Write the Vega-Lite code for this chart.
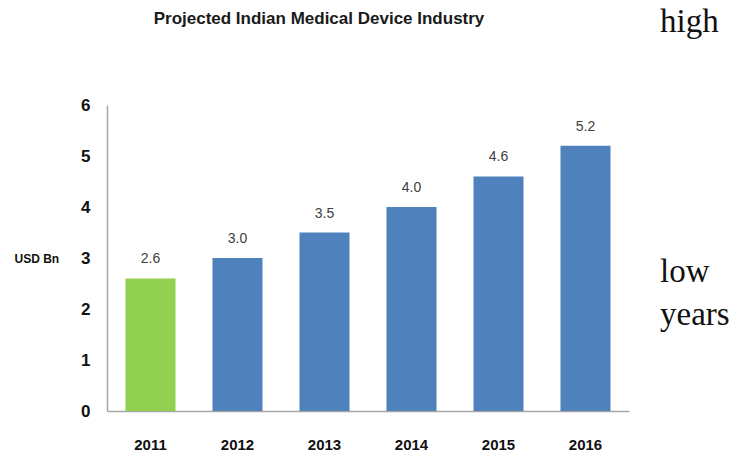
{
  "$schema": "https://vega.github.io/schema/vega-lite/v6.json",
  "width": 522,
  "height": 306,
  "autosize": {"type": "none"},
  "padding": {"left": 107, "top": 105, "right": 118, "bottom": 47},
  "background": "white",
  "title": {
    "text": "Projected Indian Medical Device Industry",
    "font": "Liberation Sans",
    "fontSize": 17,
    "fontWeight": "bold",
    "color": "#1a1a1a",
    "anchor": "middle",
    "baseline": "bottom",
    "dx": -49,
    "offset": 0,
    "dy": 39
  },
  "config": {"view": {"stroke": null}},
  "layer": [
    {
      "data": {
        "values": [
          {"year": "2011", "value": 2.6},
          {"year": "2012", "value": 3.0},
          {"year": "2013", "value": 3.5},
          {"year": "2014", "value": 4.0},
          {"year": "2015", "value": 4.6},
          {"year": "2016", "value": 5.2}
        ]
      },
      "encoding": {
        "x": {
          "field": "year",
          "type": "nominal",
          "scale": {"paddingInner": 0.425, "paddingOuter": 0.2125},
          "axis": {
            "title": null,
            "labelAngle": 0,
            "ticks": false,
            "labelPadding": 26,
            "labelFont": "Liberation Sans",
            "labelFontSize": 15,
            "labelFontWeight": "bold",
            "labelColor": "#111111",
            "domainColor": "#A6A6A6",
            "domainWidth": 1.5
          }
        },
        "y": {
          "field": "value",
          "type": "quantitative",
          "scale": {"domain": [0, 6], "nice": false},
          "axis": {
            "values": [0, 1, 2, 3, 4, 5, 6],
            "grid": false,
            "ticks": false,
            "labelPadding": 17,
            "labelFont": "Liberation Sans",
            "labelFontSize": 17,
            "labelFontWeight": "bold",
            "labelColor": "#111111",
            "domainColor": "#A6A6A6",
            "domainWidth": 1.5,
            "title": "USD Bn",
            "titleAngle": 0,
            "titleAlign": "left",
            "titleBaseline": "middle",
            "titleX": -93,
            "titleY": 153,
            "titleFont": "Liberation Sans",
            "titleFontSize": 12,
            "titleFontWeight": "bold",
            "titleColor": "#111111"
          }
        }
      },
      "layer": [
        {
          "mark": {"type": "bar"},
          "encoding": {
            "color": {
              "condition": {"test": "datum.year === '2011'", "value": "#92D050"},
              "value": "#4F81BD"
            }
          }
        },
        {
          "mark": {
            "type": "text",
            "dy": -19,
            "font": "Liberation Sans",
            "fontSize": 14,
            "color": "#404040"
          },
          "encoding": {
            "text": {"field": "value", "type": "quantitative", "format": ".1f"}
          }
        }
      ]
    },
    {
      "data": {"values": [{"word": "high"}]},
      "mark": {"type": "text", "align": "left", "baseline": "middle", "font": "Liberation Serif", "fontSize": 33, "color": "#111111"},
      "encoding": {"text": {"field": "word"}, "x": {"value": 553}, "y": {"value": -83}}
    },
    {
      "data": {"values": [{"word": "low"}]},
      "mark": {"type": "text", "align": "left", "baseline": "middle", "font": "Liberation Serif", "fontSize": 33, "color": "#111111"},
      "encoding": {"text": {"field": "word"}, "x": {"value": 553}, "y": {"value": 167}}
    },
    {
      "data": {"values": [{"word": "years"}]},
      "mark": {"type": "text", "align": "left", "baseline": "middle", "font": "Liberation Serif", "fontSize": 33, "color": "#111111"},
      "encoding": {"text": {"field": "word"}, "x": {"value": 553}, "y": {"value": 210}}
    }
  ]
}
